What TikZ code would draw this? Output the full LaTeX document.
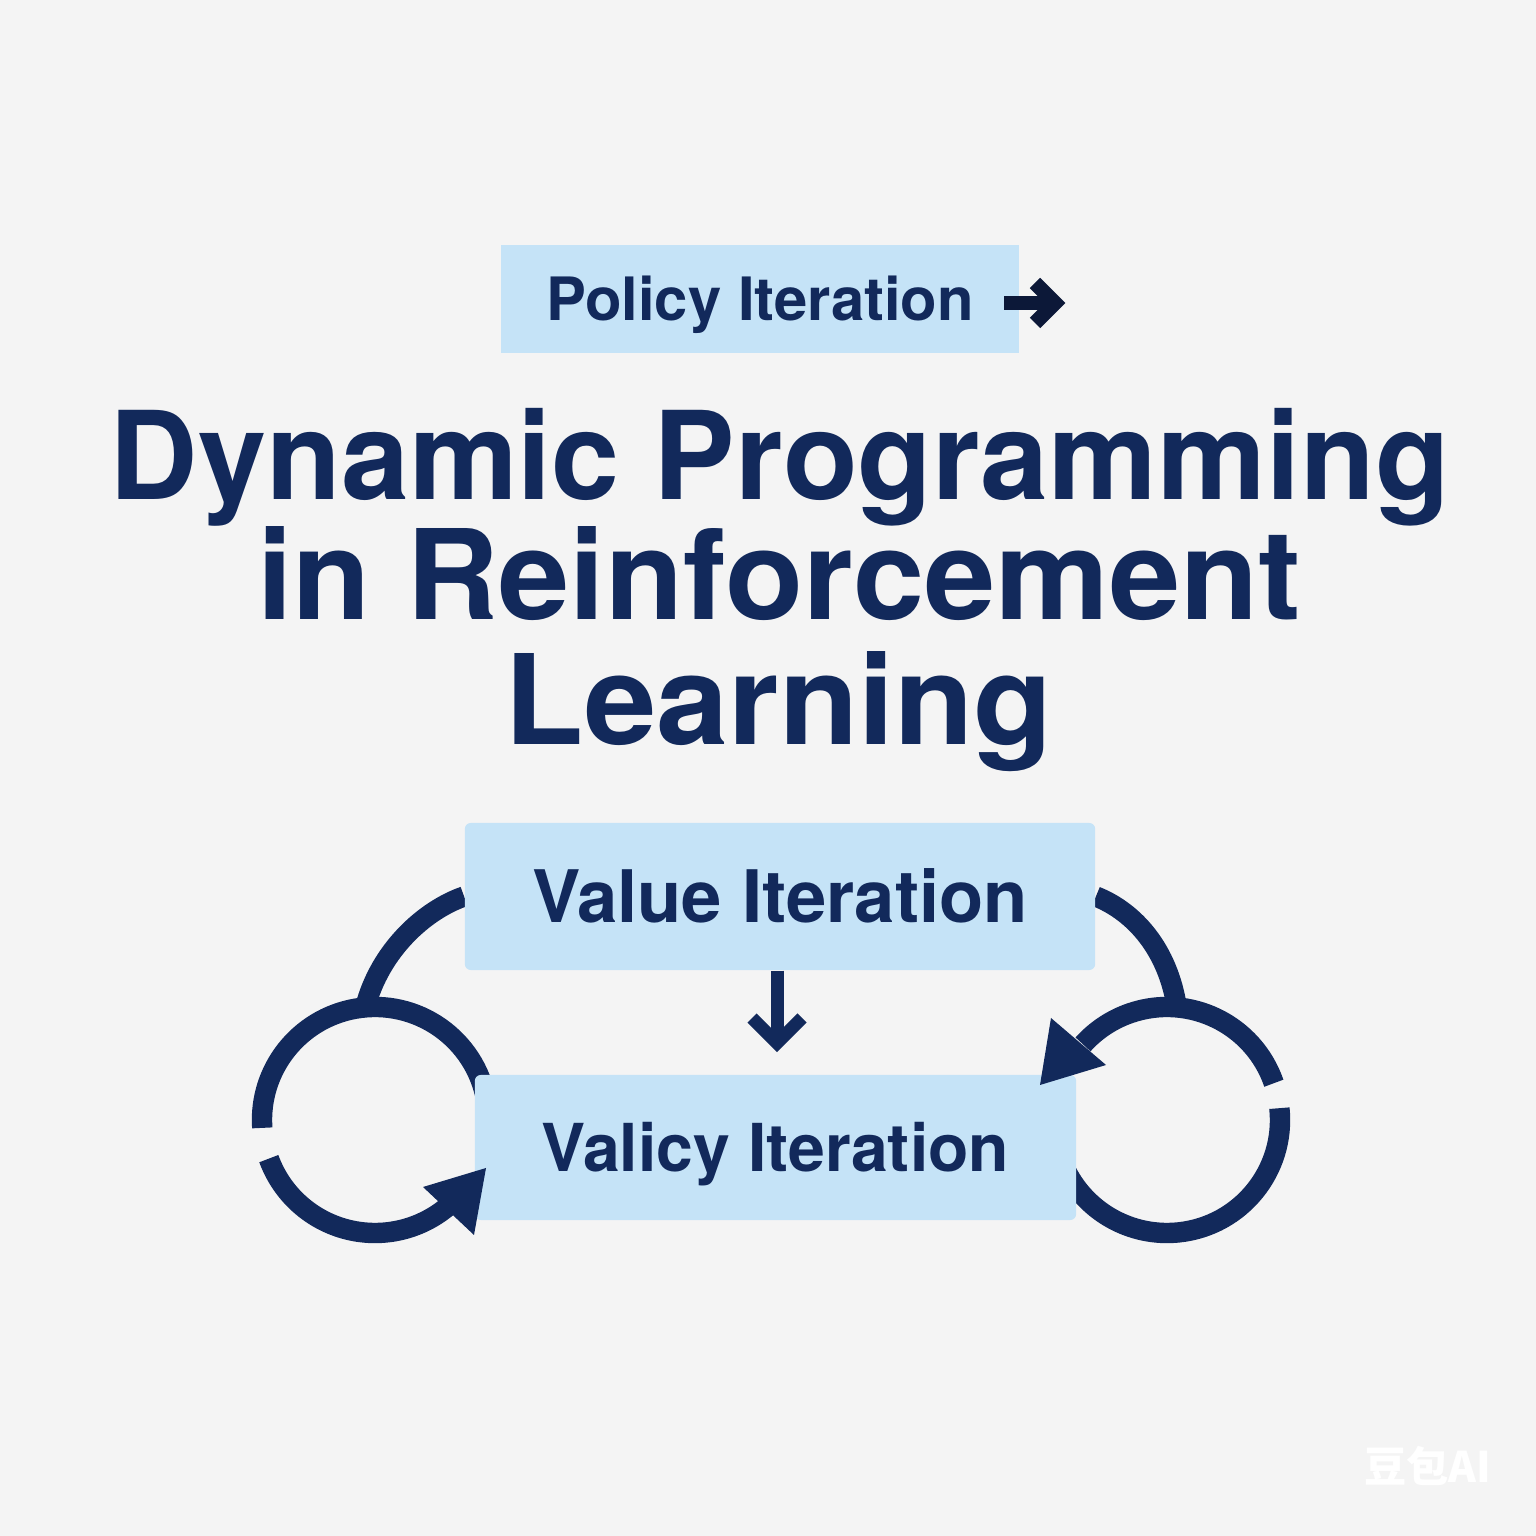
\documentclass[tikz,border=0pt]{standalone}
\usepackage{fontspec}
\setmainfont{TeX Gyre Heros}
\newfontfamily\cjkfont{Noto Sans CJK SC}
\usetikzlibrary{calc}
\definecolor{bgc}{HTML}{F4F4F4}
\definecolor{navy}{HTML}{12295B}
\definecolor{boxc}{HTML}{C5E3F7}
\definecolor{ink}{HTML}{0C1838}
\pgfdeclarelayer{back}
\pgfdeclarelayer{bg}
\pgfsetlayers{back,bg,main}
\begin{document}
\begin{tikzpicture}[x=0.01cm,y=0.01cm,
  titlefont/.style={font=\fontsize{35.5}{40}\selectfont\bfseries, text=navy, anchor=base, inner sep=0pt},
  lbox/.style={fill=boxc, inner sep=0pt, text=navy, text depth=0pt},
  loopline/.style={draw=navy, line width=5.8pt, line cap=butt},
  barrow/.style={draw=navy, line width=3.7pt, miter limit=10, line join=miter},
  parrow/.style={draw=ink, line width=4.2pt, miter limit=10, line join=miter}
]
\begin{pgfonlayer}{back}
\fill[bgc] (0,0) rectangle (1536,1536);
\end{pgfonlayer}
\useasboundingbox (0,0) rectangle (1536,1536);

% title
\node[titlefont, font=\fontsize{34.8}{40}\selectfont\bfseries] (t1) at (780,1036) {Dynamic Programming};
\node[titlefont, xscale=1.025] (t2) at (779,916) {in Reinforcement};
\node[titlefont, xscale=1.04] (t3) at (779,791) {Learning};

% boxes
\node[lbox, minimum width=5.18cm, minimum height=1.08cm, text height=12.2pt,
      font=\fontsize{17}{20}\selectfont\bfseries] (pbox) at (760,1237) {Policy Iteration};
\node[lbox, rounded corners=1.7pt, minimum width=6.30cm, minimum height=1.47cm, text height=14.8pt,
      font=\fontsize{20.6}{24}\selectfont\bfseries] (vbox) at (780,639.5) {Value Iteration};
\node[lbox, rounded corners=1.7pt, minimum width=6.01cm, minimum height=1.45cm, text height=13.5pt,
      font=\fontsize{18.8}{22}\selectfont\bfseries] (ybox) at (775.5,388.5) {Valicy Iteration};

\coordinate (lc) at (375,416);
\coordinate (rc) at (1167,416);

\begin{pgfonlayer}{bg}
  \draw[loopline] (vbox.west) .. controls (425,626) and (380,586) .. ([shift={(95:113)}]lc);
  \draw[loopline] (vbox.east) .. controls (1135,624) and (1168,586) .. ([shift={(85:113)}]rc);
  \draw[loopline] ([shift={(10:113)}]lc) arc[start angle=10, end angle=184, radius=113];
  \draw[loopline] ([shift={(200:113)}]lc) arc[start angle=200, end angle=310, radius=113];
  \draw[loopline] ([shift={(19:113)}]rc) arc[start angle=19, end angle=138, radius=113];
  \draw[loopline] ([shift={(6:113)}]rc) arc[start angle=6, end angle=-180, radius=113];
\end{pgfonlayer}

% arrowheads of the loops
\fill[navy] (423,349) -- (486,368) -- (474,301) -- cycle;
\fill[navy] (1051,518) -- (1040,451) -- (1106,471) -- cycle;

% down arrow
\coordinate (dtip) at (777,493);
\draw[barrow] (vbox.south -| dtip) -- (dtip);
\draw[barrow] (752,518) -- (dtip) -- (802,518);

% policy arrow
\coordinate (pstart) at (1004,1233);
\coordinate (ptip) at (1055,1233);
\draw[parrow] (pstart) -- (ptip);
\draw[parrow] (1035,1253) -- (ptip) -- (1035,1213);

% watermark
\node[text=white, font=\cjkfont\bfseries\fontsize{12}{14}\selectfont, anchor=base, inner sep=0pt] (wm) at (1428,54) {豆包AI};
\end{tikzpicture}
\end{document}
